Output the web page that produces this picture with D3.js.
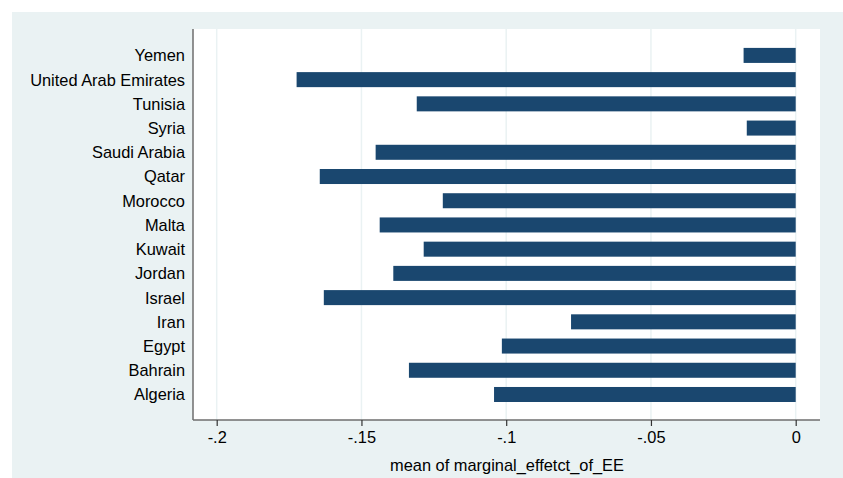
<!DOCTYPE html>
<html><head><meta charset="utf-8">
<script src="https://cdn.jsdelivr.net/npm/d3@7"></script>
<style>html,body{margin:0;padding:0;background:#fff;}svg{display:block;}</style>
</head><body>
<script>
const countries = ["Yemen","United Arab Emirates","Tunisia","Syria","Saudi Arabia","Qatar","Morocco","Malta","Kuwait","Jordan","Israel","Iran","Egypt","Bahrain","Algeria"];
const values = [-0.018,-0.1724,-0.1309,-0.0169,-0.1451,-0.1644,-0.1219,-0.1437,-0.1285,-0.139,-0.163,-0.0776,-0.1015,-0.1336,-0.1042];
const tickValues = [-0.2,-0.15,-0.1,-0.05,0];
const tickLabels = ["-.2","-.15","-.1","-.05","0"];
const axisTitle = "mean of marginal_effetct_of_EE";

const W = 843, H = 478;
const font = "'Liberation Sans', Arial, sans-serif";
const svg = d3.select("body").append("svg").attr("width", W).attr("height", H);

svg.append("rect").attr("x",12).attr("y",12).attr("width",W-12).attr("height",H-12).attr("fill","#EAF2F3");
const plot = {x0:193, x1:820, y0:29, y1:420};
svg.append("rect").attr("x",plot.x0).attr("y",plot.y0).attr("width",plot.x1-plot.x0).attr("height",plot.y1-plot.y0).attr("fill","#fff");

const x = d3.scaleLinear().domain([-0.2,0]).range([216.7,795.7]);
const y = d3.scaleBand().domain(countries).range([43.3,406.6]).paddingInner(0.38).paddingOuter(0.19);

// gridlines
svg.append("g").selectAll("line").data(tickValues).join("line")
  .attr("x1",d=>x(d)).attr("x2",d=>x(d)).attr("y1",plot.y0).attr("y2",plot.y1)
  .attr("stroke","#EAF2F3").attr("stroke-width",1.5);

// bars
svg.append("g").selectAll("rect").data(countries).join("rect")
  .attr("x",(d,i)=>x(values[i])).attr("width",(d,i)=>x(0)-x(values[i]))
  .attr("y",d=>y(d)).attr("height",y.bandwidth()).attr("fill","#1A476F");

// y labels
svg.append("g").selectAll("text").data(countries).join("text")
  .attr("x",185).attr("y",d=>y(d)+y.bandwidth()/2).attr("dy","0.36em")
  .attr("text-anchor","end").attr("font-family",font).attr("font-size","16.4px").attr("fill","#000")
  .text(d=>d);

// axes
const xAxis = d3.axisBottom(x).tickValues(tickValues).tickFormat((d,i)=>tickLabels[i]).tickSize(6).tickSizeOuter(0);
const gx = svg.append("g").attr("transform",`translate(0,${plot.y1})`).call(xAxis);
gx.select(".domain").attr("d",`M${plot.x0},0H${plot.x1}`).attr("stroke","#6E6E6E").attr("stroke-width",1.5);
gx.selectAll(".tick line").attr("stroke","#333").attr("stroke-width",1.2);
gx.selectAll(".tick text").attr("font-family",font).attr("font-size","16.4px").attr("fill","#000").attr("y",11);

svg.append("line").attr("x1",plot.x0).attr("x2",plot.x0).attr("y1",plot.y0).attr("y2",plot.y1)
  .attr("stroke","#6E6E6E").attr("stroke-width",1.5);

svg.append("text").attr("x",(plot.x0+plot.x1)/2 + 0.5).attr("y",465).attr("dy","0.36em")
  .attr("text-anchor","middle").attr("font-family",font).attr("font-size","16.4px").attr("fill","#000")
  .text(axisTitle);
</script>
</body></html>
